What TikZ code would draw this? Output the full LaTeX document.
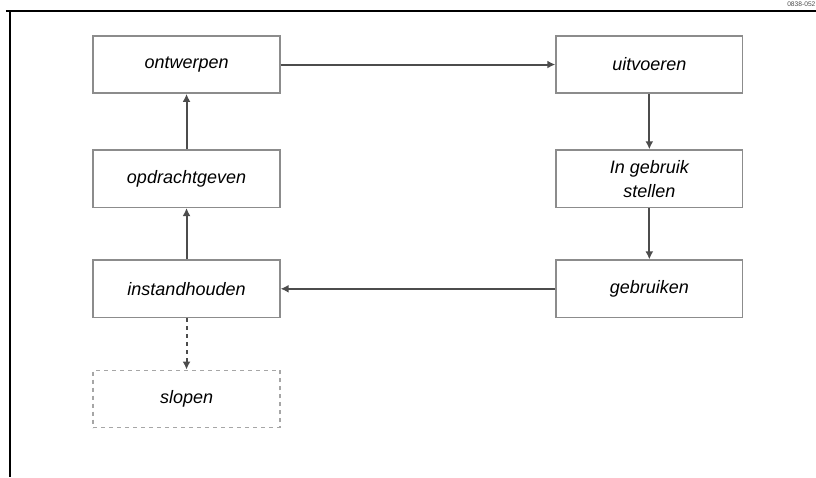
\documentclass[tikz,border=0pt]{standalone}
\usepackage{fontspec}
\setmainfont{Liberation Sans}
\usetikzlibrary{arrows.meta,positioning}

\begin{document}
\begin{tikzpicture}[node distance=38.5pt, every node/.style={font=\fontsize{13.5}{18}\selectfont\itshape}, box/.style={rectangle, draw=black!45, line width=1.1pt, align=center, minimum width=140pt, minimum height=43pt, inner sep=2pt}, gone/.style={box, draw=black!35, dashed}, arrow/.style={-{Latex[length=6pt,width=6pt]}, draw=black!70, line width=1.5pt}]
\useasboundingbox (-139.9pt,-309.4pt) rectangle (472.1pt,48.4pt);
\coordinate (corner) at (-132.4pt,40.1pt);
\draw[line width=1.6pt] (-135.4pt,40.1pt) -- (472.1pt,40.1pt);
\draw[line width=1.6pt] (corner) -- (-132.4pt,-309.4pt);
\node[anchor=west, font=\fontsize{5}{6}\selectfont, text=black!70] (tag) at (447pt,45.2pt) {0838-052};
\node[box] (ontwerpen) {ontwerpen};
\node[box, below=41.5pt of ontwerpen] (opdracht) {opdrachtgeven};
\node[box, below=of opdracht] (instand) {instandhouden};
\node[gone, below=of instand] (slopen) {slopen};
\node[box, right=206pt of ontwerpen] (uitvoeren) {uitvoeren};
\node[box, right=206pt of opdracht] (ingebruik) {In gebruik\\stellen};
\node[box, right=206pt of instand] (gebruiken) {gebruiken};
\draw[arrow] (ontwerpen) -- (uitvoeren);
\draw[arrow] (uitvoeren) -- (ingebruik);
\draw[arrow] (ingebruik) -- (gebruiken);
\draw[arrow] (gebruiken) -- (instand);
\draw[arrow] (instand) -- (opdracht);
\draw[arrow] (opdracht) -- (ontwerpen);
\draw[arrow, dashed] (instand) -- (slopen);
\end{tikzpicture}
\end{document}
